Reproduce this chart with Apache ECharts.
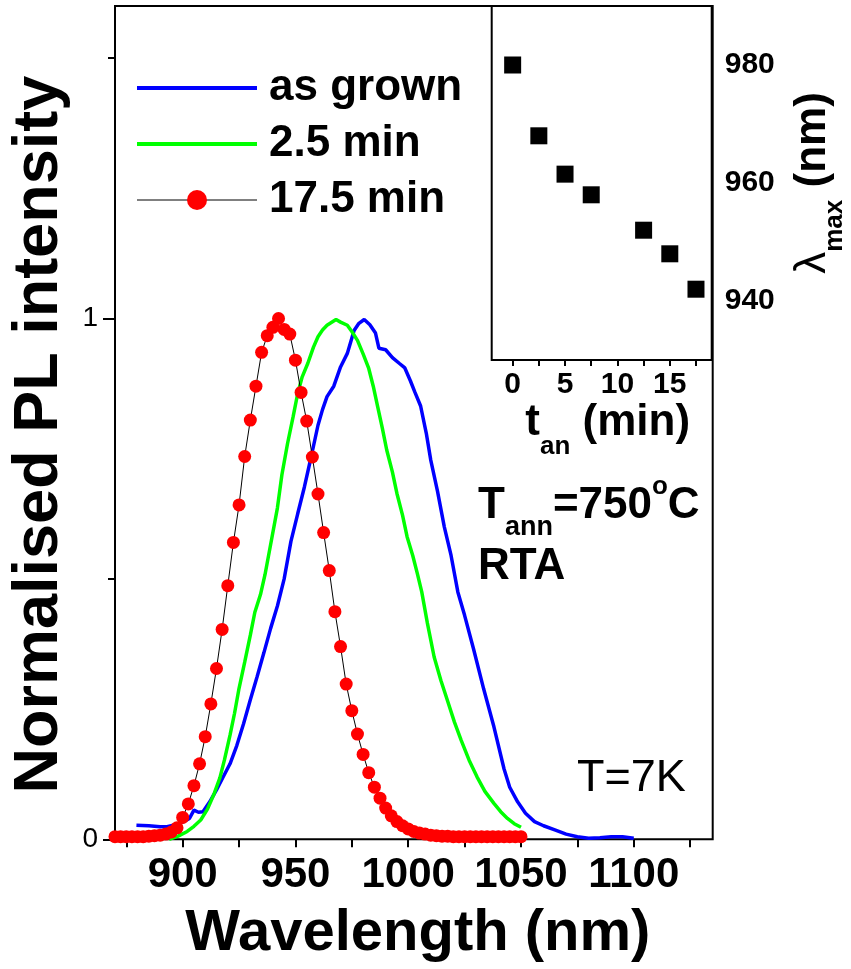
<!DOCTYPE html>
<html>
<head>
<meta charset="utf-8">
<script src="https://cdn.jsdelivr.net/npm/echarts@6/dist/echarts.min.js"></script>
<style>
  html, body { margin: 0; padding: 0; background: #fff; }
  #chart { width: 851px; height: 969px; }
</style>
</head>
<body>
<div id="chart"></div>
<script>
const FONT = '"Liberation Sans", Arial, Helvetica, sans-serif';

// PL spectrum, as-grown sample (wavelength nm, normalised intensity)
const asGrownWavelength = [879.5, 885, 890, 893, 897, 900, 903, 905, 907, 909, 912, 915, 918, 921, 924, 927, 930, 933, 936, 939, 942, 945, 948, 951, 954, 957, 960, 962, 964, 967, 970, 973, 976, 978, 980.5, 983, 985.5, 987, 990, 993, 996, 998.5, 1001, 1003, 1005.5, 1008, 1010, 1013, 1016, 1019, 1022, 1025, 1029, 1033.5, 1038, 1042.5, 1045, 1048.5, 1052, 1056, 1060, 1065, 1070, 1075, 1080, 1085, 1090, 1095, 1100];
const asGrownIntensity  = [0.027, 0.026, 0.024, 0.024, 0.028, 0.033, 0.040, 0.056, 0.052, 0.053, 0.072, 0.095, 0.120, 0.145, 0.180, 0.222, 0.268, 0.312, 0.358, 0.405, 0.448, 0.500, 0.572, 0.625, 0.677, 0.735, 0.795, 0.825, 0.850, 0.870, 0.907, 0.933, 0.977, 0.990, 0.998, 0.988, 0.972, 0.943, 0.940, 0.925, 0.914, 0.905, 0.880, 0.858, 0.832, 0.780, 0.728, 0.668, 0.600, 0.545, 0.475, 0.430, 0.365, 0.288, 0.216, 0.135, 0.100, 0.072, 0.050, 0.034, 0.026, 0.018, 0.010, 0.005, 0.002, 0.003, 0.005, 0.005, 0.002];

// PL spectrum after 2.5 min anneal
const anneal25Wavelength = [894, 898, 902, 905, 908, 911, 914, 916.5, 918.5, 921, 923, 925, 927.5, 930, 932, 934.5, 936.5, 939, 942, 944, 946.5, 949, 951, 953, 955.5, 958, 960, 962, 964, 968, 970, 973, 975, 977.5, 980, 982.5, 984.5, 986.5, 988.5, 990.5, 993, 995, 997.5, 999.5, 1002, 1004, 1006, 1008.5, 1011.5, 1014.5, 1017.5, 1020.5, 1023.5, 1027, 1030.5, 1034, 1038, 1041, 1044, 1047, 1050];
const anneal25Intensity  = [0.000, 0.006, 0.015, 0.025, 0.037, 0.058, 0.088, 0.118, 0.152, 0.200, 0.242, 0.290, 0.340, 0.392, 0.436, 0.470, 0.508, 0.566, 0.636, 0.700, 0.760, 0.812, 0.856, 0.888, 0.914, 0.945, 0.965, 0.978, 0.987, 0.998, 0.993, 0.987, 0.975, 0.958, 0.932, 0.904, 0.870, 0.830, 0.790, 0.747, 0.705, 0.664, 0.622, 0.581, 0.545, 0.511, 0.475, 0.415, 0.350, 0.305, 0.265, 0.225, 0.190, 0.152, 0.120, 0.092, 0.069, 0.053, 0.040, 0.030, 0.023];

// PL spectrum after 17.5 min anneal (measured points)
const anneal175Wavelength = [870, 872.5, 875, 877.5, 880, 882.5, 885, 887.5, 890, 892.5, 895, 897.5, 900, 902.5, 905, 907.5, 910, 912.5, 915, 917.5, 920, 922.5, 925, 927.5, 930, 932.5, 935, 937.5, 940, 942.5, 945, 947.5, 950, 952.5, 955, 957.5, 960, 962.5, 965, 967.5, 970, 972.5, 975, 977.5, 980, 982.5, 985, 987.5, 990, 992.5, 995, 997.5, 1000, 1002.5, 1005, 1007.5, 1010, 1012.5, 1015, 1017.5, 1020, 1022.5, 1025, 1027.5, 1030, 1032.5, 1035, 1037.5, 1040, 1042.5, 1045, 1047.5, 1050];
const anneal175Intensity  = [0.005, 0.005, 0.005, 0.005, 0.005, 0.005, 0.006, 0.007, 0.008, 0.010, 0.014, 0.022, 0.042, 0.068, 0.103, 0.145, 0.197, 0.260, 0.328, 0.403, 0.487, 0.570, 0.642, 0.735, 0.805, 0.870, 0.935, 0.967, 0.983, 1.000, 0.979, 0.970, 0.920, 0.858, 0.803, 0.734, 0.663, 0.589, 0.516, 0.437, 0.370, 0.298, 0.247, 0.202, 0.163, 0.128, 0.100, 0.079, 0.060, 0.045, 0.034, 0.026, 0.020, 0.015, 0.012, 0.010, 0.008, 0.007, 0.006, 0.006, 0.005, 0.005, 0.005, 0.005, 0.005, 0.005, 0.005, 0.005, 0.005, 0.005, 0.005, 0.005, 0.005];

// Peak wavelength versus annealing time
const annealTime = [0, 2.5, 5, 7.5, 12.5, 15, 17.5];
const peakWavelength = [980, 968, 961.5, 958, 952, 948, 942];

const seriesNames = ['as grown', '2.5 min', '17.5 min'];

// Tick and label values
const mainXTicks = [875, 900, 925, 950, 975, 1000, 1025, 1050, 1075, 1100, 1125];
const mainXLabels = [900, 950, 1000, 1050, 1100];
const mainYMajor = [0, 1];
const mainYMinor = [0.5, 1.5];
const insetXTicks = [0, 2.5, 5, 7.5, 10, 12.5, 15, 17.5];
const insetXLabels = [0, 5, 10, 15];
const insetYLabels = [940, 960, 980];

const pairs = (xs, ys) => xs.map((x, i) => [x, ys[i]]);
const plain = (v) => String(v);

const chart = echarts.init(document.getElementById('chart'), null, { renderer: 'canvas' });

const axisLineStyle = { color: '#000', width: 2 };
const hidden = { show: false };

const option = {
  animation: false,
  backgroundColor: '#fff',
  textStyle: { fontFamily: FONT, color: '#000' },
  grid: [
    { left: 114, top: 6, width: 598.7, height: 833.3, show: true, borderColor: '#000', borderWidth: 2, backgroundColor: 'transparent', containLabel: false },
    { left: 491.7, top: 6, width: 220, height: 354, show: true, borderColor: '#000', borderWidth: 2, backgroundColor: '#fff', containLabel: false, z: 3 }
  ],
  xAxis: [
    {
      gridIndex: 0, type: 'value', position: 'bottom', min: 870, max: 1135,
      axisLine: hidden, splitLine: hidden,
      axisTick: { show: true, inside: false, length: 8, customValues: mainXTicks, lineStyle: axisLineStyle },
      axisLabel: { customValues: mainXLabels, formatter: plain, fontSize: 42, fontWeight: 'bold', fontFamily: FONT, color: '#000', margin: 15 },
      name: 'Wavelength (nm)', nameLocation: 'middle', nameGap: 66,
      nameTextStyle: { fontSize: 58, fontWeight: 'bold', fontFamily: FONT, color: '#000', padding: [0, 0, 0, 8] }
    },
    {
      gridIndex: 0, type: 'value', position: 'top', min: 870, max: 1135,
      axisLine: hidden, splitLine: hidden, axisLabel: hidden,
      axisTick: { show: true, inside: true, length: 7, customValues: mainXTicks, lineStyle: axisLineStyle }
    },
    {
      gridIndex: 1, type: 'value', position: 'bottom', min: -2, max: 19,
      axisLine: hidden, splitLine: hidden,
      axisTick: { show: true, inside: false, length: 6, customValues: insetXTicks, lineStyle: axisLineStyle },
      axisLabel: { customValues: insetXLabels, formatter: plain, fontSize: 30, fontWeight: 'bold', fontFamily: FONT, color: '#000', margin: 10 },
      name: '{m|t}{s|an}{m| (min)}', nameLocation: 'middle', nameGap: 19,
      nameTextStyle: {
        padding: [0, 0, 0, 12],
        rich: {
          m: { fontSize: 44, fontWeight: 'bold', fontFamily: FONT, color: '#000', lineHeight: 74, verticalAlign: 'middle' },
          s: { fontSize: 26, fontWeight: 'bold', fontFamily: FONT, color: '#000', lineHeight: 26, verticalAlign: 'bottom' }
        }
      }
    },
    {
      gridIndex: 1, type: 'value', position: 'top', min: -2, max: 19,
      axisLine: hidden, splitLine: hidden, axisLabel: hidden,
      axisTick: { show: true, inside: true, length: 6, customValues: insetXTicks, lineStyle: axisLineStyle }
    }
  ],
  yAxis: [
    {
      gridIndex: 0, type: 'value', position: 'left', min: 0, max: 1.6,
      axisLine: hidden, splitLine: hidden,
      axisTick: { show: true, inside: false, length: 12, customValues: mainYMajor, lineStyle: axisLineStyle },
      axisLabel: { customValues: mainYMajor, formatter: plain, fontSize: 28, fontFamily: FONT, color: '#000', margin: 17 },
      name: 'Normalised PL intensity', nameLocation: 'middle', nameGap: 44,
      nameTextStyle: { fontSize: 63, fontWeight: 'bold', fontFamily: FONT, color: '#000', padding: [0, 24, 0, 0] }
    },
    {
      gridIndex: 0, type: 'value', position: 'left', min: 0, max: 1.6,
      axisLine: hidden, splitLine: hidden, axisLabel: hidden,
      axisTick: { show: true, inside: false, length: 7, customValues: mainYMinor, lineStyle: axisLineStyle }
    },
    {
      gridIndex: 1, type: 'value', position: 'right', min: 930, max: 990, interval: 10,
      axisLine: hidden, splitLine: hidden,
      axisTick: { show: true, inside: true, length: 6, lineStyle: axisLineStyle },
      axisLabel: { customValues: insetYLabels, formatter: plain, fontSize: 30, fontWeight: 'bold', fontFamily: FONT, color: '#000', margin: 13 },
      name: '{l|λ}{s|max}{m| (nm)}', nameLocation: 'middle', nameGap: 66,
      nameTextStyle: {
        rich: {
          l: { fontSize: 44, fontFamily: FONT, color: '#000', lineHeight: 70, verticalAlign: 'middle' },
          m: { fontSize: 44, fontWeight: 'bold', fontFamily: FONT, color: '#000', lineHeight: 70, verticalAlign: 'middle' },
          s: { fontSize: 26, fontWeight: 'bold', fontFamily: FONT, color: '#000', lineHeight: 26, verticalAlign: 'bottom' }
        }
      }
    },
    {
      gridIndex: 1, type: 'value', position: 'left', min: 930, max: 990, interval: 10,
      axisLine: hidden, splitLine: hidden, axisLabel: hidden,
      axisTick: { show: true, inside: true, length: 6, lineStyle: axisLineStyle }
    }
  ],
  legend: {
    data: [
      { name: seriesNames[0], itemStyle: { opacity: 0 }, lineStyle: { width: 4 } },
      { name: seriesNames[1], itemStyle: { opacity: 0 }, lineStyle: { width: 4 } },
      { name: seriesNames[2], lineStyle: { width: 1 } }
    ],
    orient: 'vertical',
    left: 135, top: 63,
    itemWidth: 120, itemHeight: 25, itemGap: 6,
    padding: 0,
    selectedMode: false,
    textStyle: { fontSize: 44, fontWeight: 'bold', fontFamily: FONT, color: '#000', lineHeight: 50, padding: [0, 0, 0, 7] }
  },
  series: [
    {
      name: seriesNames[0], type: 'line', xAxisIndex: 0, yAxisIndex: 0,
      data: pairs(asGrownWavelength, asGrownIntensity),
      symbol: 'none', lineStyle: { color: '#0000ff', width: 3.5 }, itemStyle: { color: '#0000ff' }, z: 2
    },
    {
      name: seriesNames[1], type: 'line', xAxisIndex: 0, yAxisIndex: 0,
      data: pairs(anneal25Wavelength, anneal25Intensity),
      symbol: 'none', lineStyle: { color: '#00ff00', width: 3.5 }, itemStyle: { color: '#00ff00' }, z: 3
    },
    {
      name: seriesNames[2], type: 'line', xAxisIndex: 0, yAxisIndex: 0,
      data: pairs(anneal175Wavelength, anneal175Intensity),
      symbol: 'circle', symbolSize: 13, showSymbol: true,
      lineStyle: { color: '#000', width: 1 },
      itemStyle: { color: '#ff0000', borderWidth: 0 }, z: 4
    },
    {
      type: 'scatter', xAxisIndex: 2, yAxisIndex: 2,
      data: pairs(annealTime, peakWavelength),
      symbol: 'rect', symbolSize: 17, itemStyle: { color: '#000', opacity: 1 }, z: 5
    }
  ],
  graphic: [
    {
      type: 'text', left: 478, top: 471, z: 10,
      style: {
        text: '{T|T}{s|ann}{T|=750}{o|o}{T|C}',
        rich: {
          T: { fontSize: 44, fontWeight: 'bold', fontFamily: FONT, fill: '#000', lineHeight: 70, verticalAlign: 'middle' },
          s: { fontSize: 27, fontWeight: 'bold', fontFamily: FONT, fill: '#000', lineHeight: 27, verticalAlign: 'bottom' },
          o: { fontSize: 26, fontWeight: 'bold', fontFamily: FONT, fill: '#000', lineHeight: 26, verticalAlign: 'top', padding: [3, 0, 0, 0] }
        }
      }
    },
    {
      type: 'text', left: 478, top: 545, z: 10,
      style: { text: 'RTA', font: 'bold 44px ' + FONT, fill: '#000' }
    },
    {
      type: 'text', left: 577, top: 756, z: 10,
      style: { text: 'T=7K', font: '45px ' + FONT, fill: '#000' }
    }
  ]
};

chart.setOption(option);
</script>
</body>
</html>
